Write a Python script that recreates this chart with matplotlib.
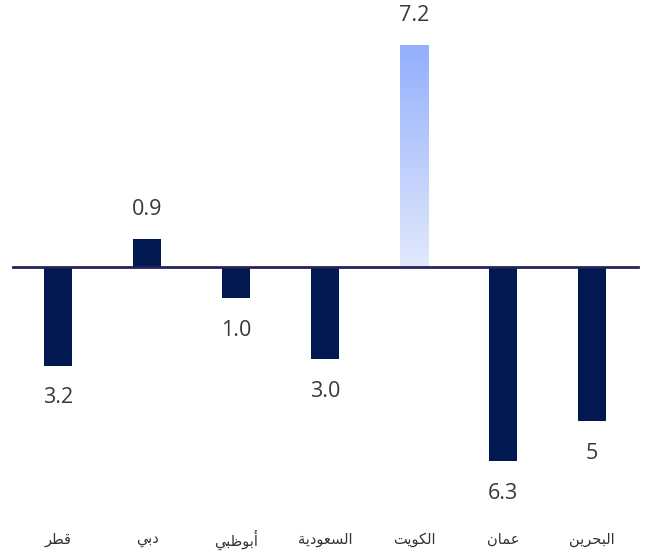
import matplotlib
matplotlib.use("Agg")
import matplotlib.pyplot as plt
import numpy as np
from matplotlib.colors import LinearSegmentedColormap

# ---- data ----
categories = ["قطر", "دبي", "أبوظبي", "السعودية", "الكويت", "عمان", "البحرين"]
values = [-3.2, 0.9, -1.0, -3.0, 7.2, -6.3, -5.0]
value_labels = ["3.2", "0.9", "1.0", "3.0", "7.2", "6.3", "5"]
highlight = "الكويت"

# ---- minimal Arabic shaping (presentation forms) ----
DUAL = {
    "ب": (0xFE8F, 0xFE90, 0xFE91, 0xFE92), "ت": (0xFE95, 0xFE96, 0xFE97, 0xFE98),
    "ح": (0xFEA1, 0xFEA2, 0xFEA3, 0xFEA4), "س": (0xFEB1, 0xFEB2, 0xFEB3, 0xFEB4),
    "ط": (0xFEC1, 0xFEC2, 0xFEC3, 0xFEC4), "ظ": (0xFEC5, 0xFEC6, 0xFEC7, 0xFEC8),
    "ع": (0xFEC9, 0xFECA, 0xFECB, 0xFECC), "ق": (0xFED5, 0xFED6, 0xFED7, 0xFED8),
    "ك": (0xFED9, 0xFEDA, 0xFEDB, 0xFEDC), "ل": (0xFEDD, 0xFEDE, 0xFEDF, 0xFEE0),
    "م": (0xFEE1, 0xFEE2, 0xFEE3, 0xFEE4), "ن": (0xFEE5, 0xFEE6, 0xFEE7, 0xFEE8),
    "ي": (0xFEF1, 0xFEF2, 0xFEF3, 0xFEF4),
}
RIGHT = {
    "ا": (0xFE8D, 0xFE8E), "أ": (0xFE83, 0xFE84), "ة": (0xFE93, 0xFE94),
    "د": (0xFEA9, 0xFEAA), "ر": (0xFEAD, 0xFEAE), "و": (0xFEED, 0xFEEE),
}


def shape(word):
    out = []
    n = len(word)
    for i, ch in enumerate(word):
        prev_j = i > 0 and word[i - 1] in DUAL
        next_j = ch in DUAL and i < n - 1 and (word[i + 1] in DUAL or word[i + 1] in RIGHT)
        if ch in DUAL:
            f = DUAL[ch]
            if prev_j and next_j:
                c = f[3]
            elif prev_j:
                c = f[1]
            elif next_j:
                c = f[2]
            else:
                c = f[0]
            out.append(chr(c))
        elif ch in RIGHT:
            f = RIGHT[ch]
            out.append(chr(f[1] if prev_j else f[0]))
        else:
            out.append(ch)
    return "".join(reversed(out))


fig = plt.figure(figsize=(6.48, 5.52), dpi=100)
ax = fig.add_axes([0, 0, 1, 1])
ax.axis("off")

navy = "#021850"
x = np.arange(len(categories))
width = 0.315

for i, (cat, v) in enumerate(zip(categories, values)):
    if cat == highlight:
        grad = np.linspace(1, 0, 256).reshape(-1, 1)
        cmap = LinearSegmentedColormap.from_list("g", ["#e2e9fd", "#93affc"])
        ax.imshow(grad, cmap=cmap, aspect="auto",
                  extent=[x[i] - width / 2, x[i] + width / 2, 0, v],
                  zorder=2, interpolation="bilinear")
    else:
        ax.bar(x[i], v, width=width, color=navy, zorder=2)

ax.set_xlim(-0.652, 6.629)
ax.set_ylim(-9.253, 8.669)

ax.axhline(0, xmin=13 / 648, xmax=638 / 648, color="#272258", lw=2, zorder=3)

for i, (v, lab) in enumerate(zip(values, value_labels)):
    y = v + 0.97 if v > 0 else v - 1.05
    ax.text(x[i], y, lab, ha="center", va="center", fontsize=15.5,
            color="#383838", family=["Open Sans", "DejaVu Sans"])

for i, cat in enumerate(categories):
    ax.text(x[i], -8.85, shape(cat), ha="center", va="center", fontsize=10.5,
            color="#333333", family=["DejaVu Sans"])

fig.savefig("out.png", dpi=100)
